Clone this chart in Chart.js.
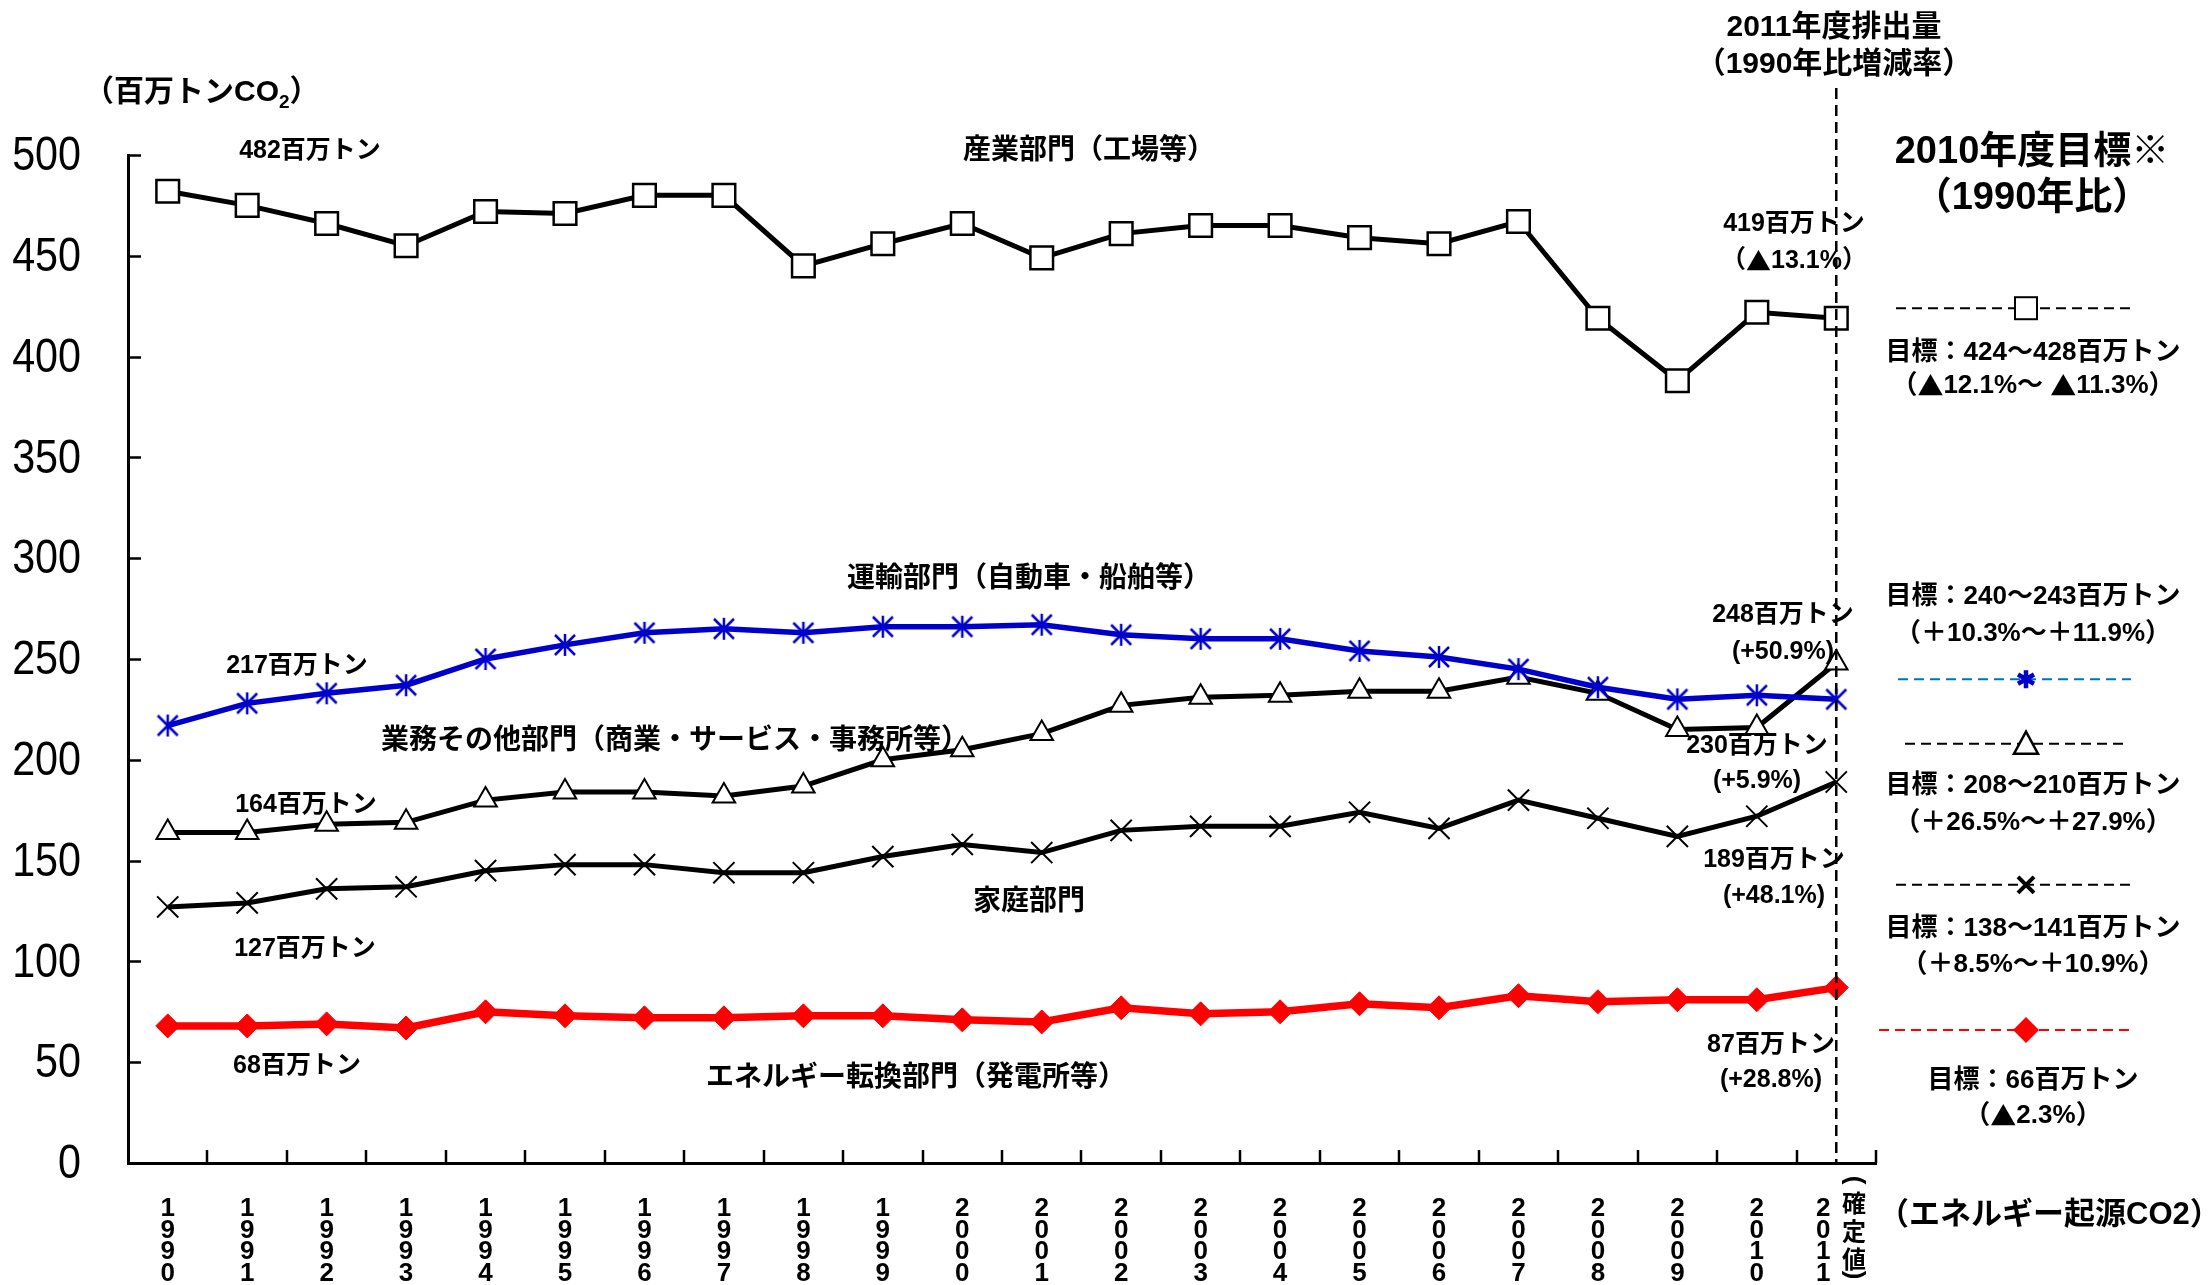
<!DOCTYPE html>
<html>
<head>
<meta charset="utf-8">
<script src="https://cdn.jsdelivr.net/npm/chart.js@4.4.1/dist/chart.umd.min.js"></script>
<style>
  html, body { margin: 0; padding: 0; background: #fff; }
  canvas { display: block; }
</style>
</head>
<body>
<canvas id="c" width="2210" height="1285"></canvas>
<script>
// Fiscal years on the category axis
const years = ['1990','1991','1992','1993','1994','1995','1996','1997','1998','1999','2000',
               '2001','2002','2003','2004','2005','2006','2007','2008','2009','2010','2011'];

// Energy-origin CO2 emissions by sector (million t-CO2)
const industry    = [482, 475, 466, 455, 472, 471, 480, 480, 445, 456, 466, 449, 461, 465, 465, 459, 456, 467, 419, 388, 422, 419];
const transport   = [217, 228, 233, 237, 250, 257, 263, 265, 263, 266, 266, 267, 262, 260, 260, 254, 251, 245, 236, 230, 232, 230];
const commercial  = [164, 164, 168, 169, 180, 184, 184, 182, 187, 200, 205, 213, 227, 231, 232, 234, 234, 241, 233, 215, 216, 248];
const residential = [127, 129, 136, 137, 145, 148, 148, 144, 144, 152, 158, 154, 165, 167, 167, 174, 166, 180, 171, 162, 172, 189];
const energyConv  = [68, 68, 69, 67, 75, 73, 72, 72, 73, 73, 71, 70, 77, 74, 75, 79, 77, 83, 80, 81, 81, 87];

const yMax = 500;
const yStep = 50;

const sectorNames = ['産業部門（工場等）', '運輸部門（自動車・船舶等）', '業務その他部門（商業・サービス・事務所等）', '家庭部門', 'エネルギー転換部門（発電所等）'];
const change2011  = ['（▲13.1%）', '(+5.9%)', '(+50.9%)', '(+48.1%)', '(+28.8%)'];

// FY2010 targets (lower / upper bound) and change vs 1990
const targetLow    = [424, 240, 208, 138, 66];
const targetHigh   = [428, 243, 210, 141, null];
const targetChange = ['（▲12.1%～ ▲11.3%）', '（＋10.3%～＋11.9%）', '（＋26.5%～＋27.9%）', '（＋8.5%～＋10.9%）', '（▲2.3%）'];

const FAM = '"Liberation Sans", "Noto Sans CJK JP", sans-serif';
const CJK = '"Noto Sans CJK JP", sans-serif';
const BLUE = 'rgb(0,0,204)';
const RED = '#ff0000';

// six-armed asterisk used as point marker for the transport series
function asterisk(color, w, h, lw) {
  const c = document.createElement('canvas');
  c.width = w + lw + 2; c.height = h + lw + 2;
  const g = c.getContext('2d');
  const cx = c.width / 2, cy = c.height / 2;
  g.strokeStyle = color; g.lineWidth = lw;
  g.beginPath();
  g.moveTo(cx, cy - h / 2); g.lineTo(cx, cy + h / 2);
  g.moveTo(cx - w / 2, cy - h / 2 + 1); g.lineTo(cx + w / 2, cy + h / 2 - 1);
  g.moveTo(cx + w / 2, cy - h / 2 + 1); g.lineTo(cx - w / 2, cy + h / 2 - 1);
  g.stroke();
  return c;
}
const starMark = asterisk(BLUE, 20, 22, 2.5);

// bold text; the ▲ glyph is taken from the CJK face so it keeps full size
function text(ctx, s, x, y, size, align) {
  const parts = s.split(/(▲)/).filter(p => p.length);
  const fontOf = p => 'bold ' + size + 'px ' + (p === '▲' ? CJK : FAM);
  let total = 0;
  const widths = parts.map(p => { ctx.font = fontOf(p); const w = ctx.measureText(p).width; total += w; return w; });
  let cx = align === 'left' ? x : x - total / 2;
  ctx.textAlign = 'left';
  ctx.textBaseline = 'middle';
  ctx.fillStyle = '#000';
  parts.forEach((p, i) => { ctx.font = fontOf(p); ctx.fillText(p, cx, y); cx += widths[i]; });
}

// year labels stacked one digit per line; the last one is nudged left
// (trailing em space) to leave room for the note beside it
const yearLabels = years.map((y, i) => y.split('').map(ch => i === years.length - 1 ? ch + '\u2003' : ch));

const overlay = {
  id: 'overlay',
  afterDraw(chart) {
    const ctx = chart.ctx;
    const xs = chart.scales.x, ys = chart.scales.y;
    const area = chart.chartArea;
    ctx.save();

    // value-axis labels, set in a condensed face
    ctx.fillStyle = '#000';
    ctx.font = '48px "Liberation Sans", sans-serif';
    ctx.textAlign = 'right';
    ctx.textBaseline = 'middle';
    ys.ticks.forEach(t => {
      const py = ys.getPixelForValue(t.value);
      ctx.save();
      ctx.translate(81, py + 2);
      ctx.scale(0.86, 1);
      ctx.fillText(String(t.value), 0, 0);
      ctx.restore();
    });

    // inward tick marks on both axes
    ctx.strokeStyle = '#000';
    ctx.lineWidth = 2.5;
    ctx.beginPath();
    for (let v = yStep; v <= yMax; v += yStep) {
      const py = Math.round(ys.getPixelForValue(v)) + 0.5;
      ctx.moveTo(area.left, py); ctx.lineTo(area.left + 13, py);
    }
    const catW = (area.right - area.left) / years.length;
    for (let i = 1; i <= years.length; i++) {
      const px = Math.round(area.left + i * catW);
      ctx.moveTo(px, area.bottom); ctx.lineTo(px, area.bottom - 13);
    }
    ctx.stroke();

    // dashed marker line at the latest fiscal year
    const xLast = xs.getPixelForValue(years.length - 1);
    ctx.setLineDash([11, 6]);
    ctx.lineWidth = 2.5;
    ctx.beginPath();
    ctx.moveTo(xLast, 88); ctx.lineTo(xLast, area.bottom);
    ctx.stroke();
    ctx.setLineDash([]);

    // unit label
    ctx.font = 'bold 30px ' + FAM;
    ctx.textAlign = 'left'; ctx.textBaseline = 'middle'; ctx.fillStyle = '#000';
    const unit = '（百万トンCO';
    ctx.fillText(unit, 84, 93);
    let w = ctx.measureText(unit).width;
    ctx.font = 'bold 19px ' + FAM;
    ctx.fillText('2', 84 + w, 103);
    w += ctx.measureText('2').width;
    ctx.font = 'bold 30px ' + FAM;
    ctx.fillText('）', 84 + w, 93);

    // headings on the right
    text(ctx, '2011年度排出量', 1834, 28, 30);
    text(ctx, '（1990年比増減率）', 1834, 65, 30);
    text(ctx, '2010年度目標※', 2032, 153, 38);
    text(ctx, '（1990年比）', 2032, 199, 38);

    // sector names
    const namePos = [[1089, 151], [1029, 579], [675, 741], [1029, 902], [916, 1078]];
    sectorNames.forEach((s, i) => text(ctx, s, namePos[i][0], namePos[i][1], 28));

    // first and last year values
    const series = [industry, transport, commercial, residential, energyConv];
    const firstPos = [[310, 151], [297, 666], [306, 805], [305, 949], [297, 1066]];
    const lastPos  = [[1794, 224, 261], [1757, 746, 781], [1783, 615, 652], [1774, 860, 896], [1771, 1045, 1080]];
    series.forEach((d, i) => {
      text(ctx, d[0] + '百万トン', firstPos[i][0], firstPos[i][1], 25);
      text(ctx, d[d.length - 1] + '百万トン', lastPos[i][0], lastPos[i][1], 25);
      text(ctx, change2011[i], lastPos[i][0], lastPos[i][2], 25);
    });

    // FY2010 target keys
    const keyX = 2026;
    const lineSpan = [[1896, 2131], [1898, 2131], [1905, 2128], [1896, 2135], [1879, 2135]];
    const lineColor = ['#000', '#0070c0', '#000', '#000', RED];
    const textY = [[353, 386], [597, 634], [786, 823], [929, 965], [1081, 1116]];
    targetLow.forEach((lo, i) => {
      const py = ys.getPixelForValue(lo);
      ctx.strokeStyle = lineColor[i];
      ctx.lineWidth = 2;
      ctx.setLineDash([10, 6]);
      ctx.beginPath();
      ctx.moveTo(lineSpan[i][0], py); ctx.lineTo(lineSpan[i][1], py);
      ctx.stroke();
      ctx.setLineDash([]);
      drawKey(ctx, i, keyX, py);
      const hi = targetHigh[i];
      const label = '目標：' + lo + (hi ? '～' + hi : '') + '百万トン';
      text(ctx, label, 2033, textY[i][0], 26);
      text(ctx, targetChange[i], 2033, textY[i][1], 26);
    });

    // provisional-status note beside the last category
    ctx.font = 'bold 24px ' + CJK;
    ctx.fillStyle = '#000';
    ctx.textAlign = 'center'; ctx.textBaseline = 'middle';
    const nx = 1854;
    ['確', '定', '値'].forEach((ch, k) => ctx.fillText(ch, nx, 1203 + k * 28));
    ctx.font = 'bold 26px "Liberation Sans", sans-serif';
    ctx.save(); ctx.translate(nx, 1180); ctx.rotate(Math.PI / 2); ctx.fillText('(', 0, 0); ctx.restore();
    ctx.save(); ctx.translate(nx, 1275); ctx.rotate(Math.PI / 2); ctx.fillText(')', 0, 0); ctx.restore();

    text(ctx, '（エネルギー起源CO2）', 1878, 1215, 31, 'left');
    ctx.restore();
  }
};

function drawKey(ctx, i, x, y) {
  ctx.save();
  ctx.setLineDash([]);
  if (i === 0) {
    ctx.fillStyle = '#fff'; ctx.strokeStyle = '#000'; ctx.lineWidth = 2;
    ctx.fillRect(x - 11, y - 11, 22, 22); ctx.strokeRect(x - 11, y - 11, 22, 22);
  } else if (i === 1) {
    ctx.strokeStyle = BLUE; ctx.lineWidth = 4.5;
    ctx.beginPath();
    ctx.moveTo(x, y - 9); ctx.lineTo(x, y + 9);
    ctx.moveTo(x - 8, y - 4.6); ctx.lineTo(x + 8, y + 4.6);
    ctx.moveTo(x + 8, y - 4.6); ctx.lineTo(x - 8, y + 4.6);
    ctx.stroke();
  } else if (i === 2) {
    ctx.fillStyle = '#fff'; ctx.strokeStyle = '#000'; ctx.lineWidth = 2.5;
    ctx.beginPath();
    ctx.moveTo(x, y - 12); ctx.lineTo(x + 12, y + 10); ctx.lineTo(x - 12, y + 10); ctx.closePath();
    ctx.fill(); ctx.stroke();
  } else if (i === 3) {
    ctx.strokeStyle = '#000'; ctx.lineWidth = 4;
    ctx.beginPath();
    ctx.moveTo(x - 8, y - 8); ctx.lineTo(x + 8, y + 8);
    ctx.moveTo(x + 8, y - 8); ctx.lineTo(x - 8, y + 8);
    ctx.stroke();
  } else {
    ctx.fillStyle = RED;
    ctx.beginPath();
    ctx.moveTo(x, y - 13); ctx.lineTo(x + 13, y); ctx.lineTo(x, y + 13); ctx.lineTo(x - 13, y); ctx.closePath();
    ctx.fill();
  }
  ctx.restore();
}

new Chart(document.getElementById('c'), {
  type: 'line',
  data: {
    labels: yearLabels,
    datasets: [
      { data: industry, borderColor: '#000', borderWidth: 5, pointStyle: 'rect', pointRadius: 16,
        pointBackgroundColor: '#fff', pointBorderColor: '#000', pointBorderWidth: 2.5 },
      { data: transport, borderColor: BLUE, borderWidth: 5.5, pointStyle: starMark, pointRadius: 12 },
      { data: commercial, borderColor: '#000', borderWidth: 5, pointStyle: 'triangle', pointRadius: 13,
        pointBackgroundColor: '#fff', pointBorderColor: '#000', pointBorderWidth: 2 },
      { data: residential, borderColor: '#000', borderWidth: 5, pointStyle: 'crossRot', pointRadius: 15,
        pointBorderColor: '#000', pointBorderWidth: 2 },
      { data: energyConv, borderColor: RED, borderWidth: 7.5, pointStyle: 'rectRot', pointRadius: 12,
        pointBackgroundColor: RED, pointBorderColor: RED, pointBorderWidth: 1 }
    ]
  },
  options: {
    responsive: false,
    animation: false,
    events: [],
    layout: { padding: { left: 0, right: 334, top: 155, bottom: 0 } },
    plugins: { legend: { display: false }, tooltip: { enabled: false } },
    elements: { line: { tension: 0 } },
    scales: {
      x: {
        offset: true,
        grid: { display: false, drawTicks: false },
        border: { color: '#000', width: 3 },
        ticks: { color: '#000', font: { family: FAM, size: 26, weight: 'bold', lineHeight: 0.83 },
                 padding: 35, maxRotation: 0, autoSkip: false },
        afterFit(s) { s.height = 122; }
      },
      y: {
        min: 0, max: yMax,
        grid: { display: false, drawTicks: false },
        border: { color: '#000', width: 3 },
        ticks: { stepSize: yStep, display: false },
        afterFit(s) { s.width = 128; }
      }
    }
  },
  plugins: [overlay]
});
</script>
</body>
</html>
